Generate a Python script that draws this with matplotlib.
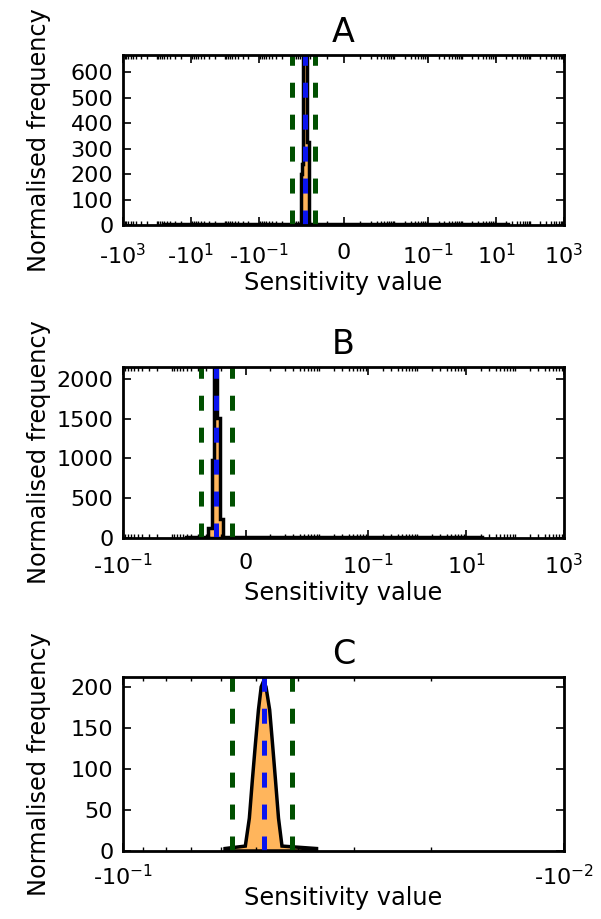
import numpy as np
import matplotlib
matplotlib.use("Agg")
import matplotlib.pyplot as plt
from matplotlib.ticker import FixedLocator, FuncFormatter

# ---- data ----
# panel A: histogram bin edges / counts
a_edges = [-66, -5.8e-3, -5.3e-3, -4.85e-3, -3.85e-3, -3.2e-3, 22]
a_counts = [5, 200, 240, 667, 324, 5]
a_mean = -4.46e-3
a_bounds = [-1.05e-2, -2.17e-3]
a_xlim = [-1e3, 1e3]
a_ticks = [-1e3, -10, -0.1, 0, 0.1, 10, 1e3]
a_yticks = [0, 100, 200, 300, 400, 500, 600]

# panel B
b_edges = [-5.3e-3, -1.8e-3, -1.54e-3, -1.36e-3, -1.18e-3, -1.04e-3, -0.9e-3, 21.7]
b_counts = [15, 126, 981, 2150, 1509, 239, 15]
b_mean = -1.28e-3
b_bounds = [-2.54e-3, -0.57e-3]
b_xlim = [-0.1, 1e3]
b_ticks = [-0.1, 0, 0.1, 10, 1e3]
b_yticks = [0, 500, 1000, 1500, 2000]

# panel C: fine histogram, traced as outline
c_x = [-0.0587, -0.0587, -0.0528, -0.0517, -0.0509, -0.0501, -0.0493, -0.0486,
       -0.0480, -0.0474, -0.0465, -0.0458, -0.0451, -0.0444, -0.0436, -0.0364, -0.0364]
c_y = [0, 3, 6, 40, 86, 130, 172, 200, 207, 200, 172, 130, 86, 40, 6, 3, 0]
c_mean = -0.048
c_bounds = [-0.0565, -0.0413]
c_xlim = [-0.1, -0.01]
c_ticks = [-0.1, -0.01]
c_yticks = [0, 50, 100, 150, 200]
c_ytop = 212

plt.rcParams['font.family'] = 'DejaVu Sans'
plt.rcParams['mathtext.fontset'] = 'dejavusans'
plt.rcParams['mathtext.default'] = 'regular'
plt.rcParams['axes.linewidth'] = 2
plt.rcParams['lines.scale_dashes'] = False

ORANGE = '#ffb55c'
GREEN = '#005000'
BLUE = '#0a14f0'
DASH = (10.8, 12.2)


def fmt(v, pos=None):
    if v == 0:
        return '0'
    sign = '-' if v < 0 else ''
    e = int(round(np.log10(abs(v))))
    return sign + r'$\mathdefault{10^{%d}}$' % e


def minor_ticks(lo, hi, majors):
    out = []
    for e in range(-3, 3):
        for k in range(1, 10):
            for s in (-1, 1):
                v = s * k * 10.0 ** e
                if lo <= v <= hi and v not in majors:
                    out.append(v)
    return out


def style(ax, xlim, ticks, yticks, ytop, title, xpad, lpad):
    ax.set_xscale('symlog', linthresh=1e-3, linscale=0.45)
    ax.set_xlim(xlim)
    ax.set_ylim(0, ytop)
    ax.xaxis.set_major_locator(FixedLocator(ticks))
    ax.xaxis.set_major_formatter(FuncFormatter(fmt))
    ax.xaxis.set_minor_locator(FixedLocator(minor_ticks(xlim[0], xlim[1], ticks)))
    ax.set_yticks(yticks)
    ax.tick_params(which='both', direction='in', top=True, right=True, labelsize=16)
    ax.tick_params(which='major', length=6, width=1.2)
    ax.tick_params(which='minor', length=3, width=1)
    ax.tick_params(axis='x', pad=xpad)
    ax.tick_params(axis='y', pad=7)
    ax.set_xlabel('Sensitivity value', fontsize=17.3, labelpad=lpad)
    ax.set_ylabel('Normalised frequency', fontsize=17.3)
    ax.yaxis.set_label_coords(-0.163, 0.5)
    ax.set_title(title, fontsize=24, pad=9)


def vlines(ax, mean, bounds):
    for b in bounds:
        ax.axvline(b, color=GREEN, lw=3.6, dashes=DASH)
    ax.axvline(mean, color=BLUE, lw=3.6, dashes=DASH)


fig = plt.figure(figsize=(6.01, 9.19), dpi=100)
W, H = 601.0, 919.0
axA = fig.add_axes([123 / W, 1 - 225 / H, 441 / W, 170 / H])
axB = fig.add_axes([123 / W, 1 - 538 / H, 441 / W, 171 / H])
axC = fig.add_axes([123 / W, 1 - 851 / H, 441 / W, 174 / H])

# A
centers = [(a_edges[i] + a_edges[i + 1]) / 2 for i in range(len(a_counts))]
axA.hist(centers, bins=a_edges, weights=a_counts, histtype='stepfilled',
         facecolor=ORANGE, edgecolor='k', lw=2.5)
vlines(axA, a_mean, a_bounds)
style(axA, a_xlim, a_ticks, a_yticks, max(a_counts), 'A', 13, 2)

# B
centers = [(b_edges[i] + b_edges[i + 1]) / 2 for i in range(len(b_counts))]
axB.hist(centers, bins=b_edges, weights=b_counts, histtype='stepfilled',
         facecolor=ORANGE, edgecolor='k', lw=2.5)
vlines(axB, b_mean, b_bounds)
style(axB, b_xlim, b_ticks, b_yticks, max(b_counts), 'B', 11, 2)

# C
axC.fill(c_x, c_y, facecolor=ORANGE, edgecolor='k', lw=2.5)
vlines(axC, c_mean, c_bounds)
style(axC, c_xlim, c_ticks, c_yticks, c_ytop, 'C', 9, -2)

fig.savefig('out.png', dpi=100, facecolor='white')
